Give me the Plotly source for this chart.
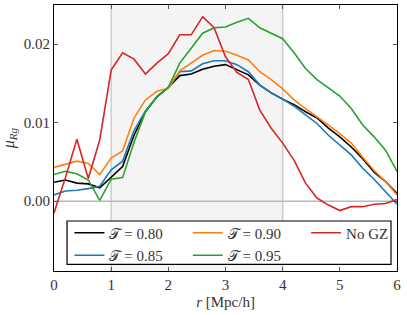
import plotly.graph_objects as go

r = [round(0.2 * i, 1) for i in range(31)]

t080 = [0.0024, 0.0027, 0.0023, 0.0022, 0.0017, 0.0031, 0.0044, 0.0084, 0.0114, 0.0133,
        0.0145, 0.0160, 0.0162, 0.0168, 0.0172, 0.0174, 0.0167, 0.0161, 0.0148, 0.0138,
        0.0130, 0.0123, 0.0114, 0.0106, 0.0093, 0.0082, 0.0069, 0.0054, 0.0037, 0.0025, 0.0010]
t085 = [0.0008, 0.0013, 0.0014, 0.0016, 0.0019, 0.0040, 0.0051, 0.0090, 0.0115, 0.0133,
        0.0145, 0.0165, 0.0166, 0.0175, 0.0179, 0.0179, 0.0174, 0.0165, 0.0148, 0.0138,
        0.0130, 0.0121, 0.0110, 0.0099, 0.0084, 0.0072, 0.0059, 0.0042, 0.0028, 0.0012, -0.0004]
t090 = [0.0043, 0.0047, 0.0051, 0.0048, 0.0034, 0.0055, 0.0064, 0.0106, 0.0129, 0.0140,
        0.0144, 0.0166, 0.0176, 0.0186, 0.0192, 0.0191, 0.0186, 0.0180, 0.0165, 0.0155,
        0.0143, 0.0129, 0.0118, 0.0108, 0.0097, 0.0086, 0.0074, 0.0056, 0.0039, 0.0025, 0.0008]
t095 = [0.0034, 0.0038, 0.0035, 0.0027, 0.0001, 0.0028, 0.0030, 0.0075, 0.0114, 0.0133,
        0.0145, 0.0176, 0.0195, 0.0214, 0.0221, 0.0222, 0.0228, 0.0233, 0.0221, 0.0214,
        0.0207, 0.0189, 0.0169, 0.0155, 0.0145, 0.0134, 0.0118, 0.0097, 0.0082, 0.0065, 0.0038]
nogz = [-0.0015, 0.0030, 0.0079, 0.0029, 0.0078, 0.0167, 0.0189, 0.0181, 0.0162, 0.0176,
        0.0188, 0.0212, 0.0212, 0.0235, 0.0221, 0.0184, 0.0164, 0.0155, 0.0116, 0.0093,
        0.0074, 0.0052, 0.0023, 0.0004, -0.0005, -0.0012, -0.0007, -0.0007, -0.0004, -0.0003, 0.0002]

series = [
    ("𝒯 = 0.80", t080, "black", "legend"),
    ("𝒯 = 0.85", t085, "#1f77b4", "legend"),
    ("𝒯 = 0.90", t090, "#ff7f0e", "legend2"),
    ("𝒯 = 0.95", t095, "#2ca02c", "legend2"),
    ("No GZ", nogz, "#d62728", "legend3"),
]

FONT = "Liberation Serif"
TXT = "#333333"
fig = go.Figure()
for name, ys, col, lg in series:
    fig.add_trace(go.Scatter(x=r, y=ys, mode="lines", name=name, legend=lg,
                             line=dict(color=col, width=1.6)))

fig.add_shape(type="rect", xref="x", yref="paper", x0=1, x1=4, y0=0, y1=1,
              fillcolor="#f4f4f4", line=dict(width=0), layer="below")
for xv in (1, 4):
    fig.add_shape(type="line", xref="x", yref="paper", x0=xv, x1=xv, y0=0, y1=1,
                  line=dict(color="#cccccc", width=1.5), layer="below")
fig.add_shape(type="line", xref="paper", yref="y", x0=0, x1=1, y0=0, y1=0,
              line=dict(color="#b8b8b8", width=1.5), layer="below")
# legend frame
fig.add_shape(type="rect", xref="paper", yref="paper", x0=0.038, x1=0.9825, y0=0.025, y1=0.188,
              fillcolor="white", line=dict(color="black", width=1.2), layer="above")

axis_common = dict(showline=True, linecolor="black", linewidth=1, mirror="ticks",
                   ticks="inside", ticklen=4, tickcolor="#555555", showgrid=False,
                   zeroline=False, tickfont=dict(family=FONT, size=15, color=TXT))

fig.update_xaxes(range=[0, 6], tickvals=[0, 1, 2, 3, 4, 5, 6],
                 title=dict(text="<i>r</i> [Mpc/h]", font=dict(family=FONT, size=15, color=TXT),
                            standoff=4), **axis_common)
fig.update_yaxes(range=[-0.0089, 0.0250], tickvals=[0, 0.01, 0.02], tickformat=".2f",
                 title=dict(text="<i>μ</i><sub><i>Rg</i></sub>", font=dict(family=FONT, size=16, color=TXT),
                            standoff=8), **axis_common)

leg = dict(orientation="v", yanchor="top", xanchor="left", bgcolor="rgba(0,0,0,0)",
           borderwidth=0, tracegroupgap=0, font=dict(family=FONT, size=15, color=TXT))
fig.update_layout(
    width=407, height=315,
    margin=dict(l=54, r=10, t=5, b=44, autoexpand=False),
    plot_bgcolor="white", paper_bgcolor="white",
    showlegend=True,
    legend=dict(x=0.045, y=0.205, **leg),
    legend2=dict(x=0.39, y=0.205, **leg),
    legend3=dict(x=0.735, y=0.205, **leg),
)

fig.write_html("out.html", config={"displayModeBar": False},
               post_script="document.body.style.margin='0';document.body.style.overflow='hidden';")
